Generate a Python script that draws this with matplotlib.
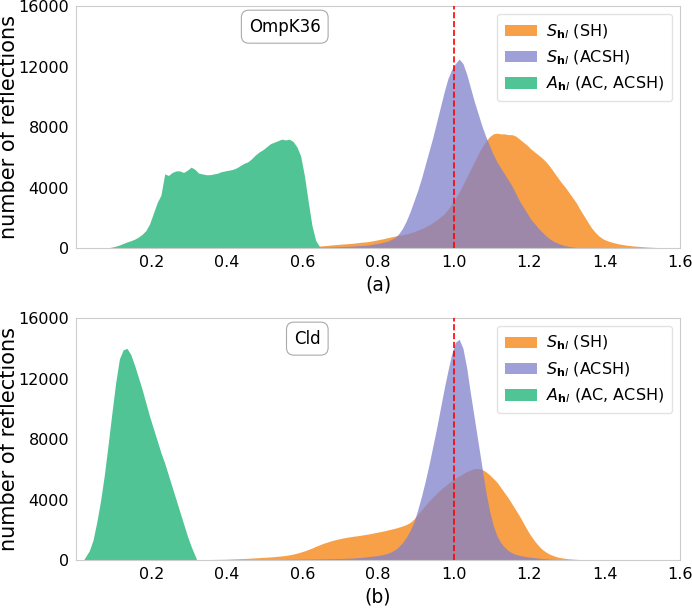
import matplotlib.pyplot as plt
import numpy as np

BIN = 0.01

# ---- panel (a): OmpK36 ----
a_sh_start = 0.55
a_sh = [30, 40, 50, 60, 70, 80, 100, 110, 120, 130,
        150, 170, 200, 220, 240, 260, 280, 300, 320, 350,
        380, 400, 430, 470, 520, 570, 620, 680, 740, 790,
        840, 880, 930, 1000, 1080, 1180, 1280, 1400, 1530, 1680,
        1850, 2050, 2250, 2550, 2900, 3300, 3700, 4200, 4700, 5200,
        5700, 6200, 6650, 7050, 7350, 7550, 7600, 7550, 7550, 7500,
        7500, 7400, 7200, 7000, 6800, 6550, 6350, 6150, 5950, 5700,
        5400, 5050, 4700, 4350, 4050, 3700, 3350, 3000, 2550, 2150,
        1750, 1350, 1050, 800, 620, 500, 420, 350, 290, 240,
        200, 170, 140, 120, 100, 80, 65, 50, 40, 30,
        25, 20, 15, 10, 5]

a_acsh_start = 0.60
a_acsh = [30, 35, 40, 45, 50, 60, 65, 70, 80, 90,
          100, 110, 120, 135, 150, 165, 180, 200, 250, 290,
          330, 390, 450, 560, 700, 950, 1300, 1800, 2400, 3100,
          3800, 4600, 5500, 6400, 7300, 8300, 9300, 10300, 11200, 11800,
          12200, 12500, 12200, 11500, 10600, 9700, 8900, 8100, 7400, 6800,
          6200, 5700, 5300, 4900, 4500, 4100, 3600, 3100, 2700, 2300,
          1900, 1600, 1300, 1050, 800, 600, 450, 330, 230, 160,
          110, 70, 40, 20]

a_ac_start = 0.08
a_ac = [20, 60, 120, 200, 300, 400, 480, 580, 720, 900,
        1150, 1600, 2300, 3000, 3500, 4900, 4800, 5000, 5100, 5100,
        5000, 5150, 5350, 5200, 4950, 4900, 4850, 4850, 4900, 4950,
        5050, 5100, 5150, 5200, 5300, 5450, 5600, 5700, 5900, 6150,
        6350, 6500, 6700, 6900, 7000, 7100, 7200, 7150, 7200, 7050,
        6700, 6100, 4800, 3100, 1500, 500, 100]

# ---- panel (b): Cld ----
b_sh_start = 0.33
b_sh = [20, 25, 30, 35, 40, 45, 50, 60, 70, 80,
        90, 100, 110, 125, 140, 155, 170, 185, 200, 220,
        245, 270, 300, 340, 390, 450, 520, 600, 690, 790,
        900, 1000, 1100, 1180, 1260, 1330, 1390, 1440, 1490, 1530,
        1570, 1600, 1640, 1680, 1720, 1770, 1820, 1870, 1920, 1980,
        2040, 2100, 2170, 2250, 2350, 2480, 2700, 3000, 3300, 3600,
        3900, 4150, 4400, 4650, 4850, 5050, 5250, 5400, 5550, 5700,
        5850, 5950, 6050, 6050, 6000, 5850, 5650, 5400, 5150, 4800,
        4450, 4100, 3700, 3300, 2900, 2450, 2000, 1600, 1250, 950,
        700, 520, 380, 280, 200, 150, 110, 80, 60, 45,
        30, 20, 15, 10, 5]

b_acsh_start = 0.50
b_acsh = [20, 24, 28, 32, 36, 40, 44, 48, 52, 56,
          60, 64, 68, 72, 76, 80, 84, 88, 92, 96,
          100, 110, 120, 130, 150, 170, 190, 220, 250, 280,
          320, 370, 440, 540, 680, 880, 1150, 1500, 1950, 2500,
          3300, 4200, 5200, 6300, 7500, 8700, 10000, 11300, 12500, 13600,
          14400, 14600, 14000, 12700, 11000, 9400, 7800, 6200, 4600, 3300,
          2300, 1600, 1150, 850, 620, 470, 370, 300, 250, 210,
          180, 150, 120, 100, 80, 60, 45, 30, 20, 10]

b_ac_start = 0.02
b_ac = [200, 600, 1300, 2500, 3900, 5600, 7600, 9700, 11700, 13300,
        13900, 14000, 13600, 12900, 12100, 11300, 10400, 9500, 8700, 7900,
        7100, 6400, 5600, 4800, 4000, 3200, 2400, 1600, 900, 300]

panels = [
    ('OmpK36', '(a)', (a_sh_start, a_sh), (a_acsh_start, a_acsh), (a_ac_start, a_ac)),
    ('Cld', '(b)', (b_sh_start, b_sh), (b_acsh_start, b_acsh), (b_ac_start, b_ac)),
]

labels = [r'$S_{\mathbf{h}l}$ (SH)', r'$S_{\mathbf{h}l}$ (ACSH)', r'$A_{\mathbf{h}l}$ (AC, ACSH)']
colors = ['#F7A047', '#8080CC', '#50C494']
alphas = [1.0, 0.75, 1.0]


def outline(start, vals):
    # histogram counts at bin centres, closed down to zero at both ends
    n = len(vals)
    x = np.round(start + BIN * (np.arange(n) + 0.5), 4)
    x = np.concatenate([[start], x, [start + BIN * n]])
    y = np.concatenate([[0], vals, [0]])
    return x, y


fig = plt.figure(figsize=(6.92, 6.13), dpi=100)
ax_a = fig.add_axes([0.1098, 0.5954, 0.8729, 0.3946])
ax_b = fig.add_axes([0.1098, 0.0865, 0.8729, 0.3946])

for ax, (name, tag, sh, acsh, ac) in zip([ax_a, ax_b], panels):
    for (start, vals), lab, col, al in zip([sh, acsh, ac], labels, colors, alphas):
        x, y = outline(start, vals)
        ax.fill_between(x, 0, y, color=col, alpha=al, linewidth=0, label=lab)
    ax.axvline(1.0, color='red', linestyle='--', linewidth=1.2, zorder=5)
    ax.set_xlim(0, 1.6)
    ax.set_ylim(0, 16000)
    ax.set_xticks([0.2, 0.4, 0.6, 0.8, 1.0, 1.2, 1.4, 1.6])
    ax.set_yticks([0, 4000, 8000, 12000, 16000])
    ax.tick_params(labelsize=11.5, length=0, pad=5)
    for sp in ax.spines.values():
        sp.set_color('#cccccc')
    ax.set_ylabel('number of reflections', fontsize=15)
    ax.yaxis.set_label_coords(-0.095, 0.5)
    ax.set_xlabel(tag, fontsize=13.5, labelpad=4)
    ax.text(0.405, 0.915, name, transform=ax.transAxes, ha='right', va='center',
            fontsize=12, bbox=dict(boxstyle='round,pad=0.45', facecolor='white',
                                   edgecolor='#aaaaaa', linewidth=0.8))
    leg = ax.legend(loc='upper right', fontsize=11.5, handlelength=2.0,
                    handletextpad=0.55, borderpad=0.5, labelspacing=0.5,
                    fancybox=True)
    leg.get_frame().set_edgecolor('#dddddd')

fig.savefig('out.png', dpi=100)
